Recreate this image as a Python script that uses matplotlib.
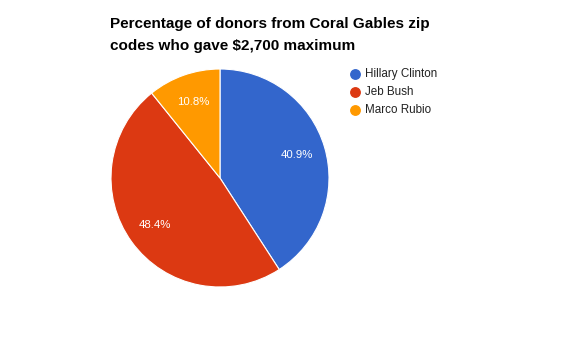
import matplotlib.pyplot as plt
from matplotlib.lines import Line2D

candidates = ['Hillary Clinton', 'Jeb Bush', 'Marco Rubio']
shares = [40.9, 48.4, 10.8]
colors = ['#3366cc', '#dc3912', '#ff9900']

plt.rcParams['font.family'] = ['Liberation Sans', 'DejaVu Sans']

W, H = 575, 356
fig = plt.figure(figsize=(W / 100, H / 100), dpi=100)
fig.patch.set_facecolor('white')

# pie axes in pixel coords: center (220,178), radius 109
cx, cy, r = 220, 178, 109
ax = fig.add_axes([(cx - r) / W, (H - cy - r) / H, 2 * r / W, 2 * r / H])
wedges, texts, autotexts = ax.pie(
    shares, colors=colors, startangle=90, counterclock=False,
    autopct='%.1f%%', pctdistance=0.74, radius=1.0,
    wedgeprops=dict(edgecolor='white', linewidth=0.8))
for t in autotexts:
    t.set_color('white')
    t.set_fontsize(8.2)
ax.set_xlim(-1, 1)
ax.set_ylim(-1, 1)
ax.set_aspect('equal')
ax.axis('off')

fig.text(110 / W, 1 - 24 / H, 'Percentage of donors from Coral Gables zip',
         fontsize=11, fontweight='bold', va='center', ha='left')
fig.text(110 / W, 1 - 46 / H, 'codes who gave $2,700 maximum',
         fontsize=11, fontweight='bold', va='center', ha='left')

# legend
for i, (name, c) in enumerate(zip(candidates, colors)):
    y = 1 - (74 + 18 * i) / H
    fig.add_artist(Line2D([355 / W], [y], marker='o', markersize=6.8,
                          color=c, linestyle='none'))
    fig.text(365 / W, y, name, fontsize=8.4, va='center', ha='left',
             color='#222222')

fig.savefig('out.png', dpi=100)
